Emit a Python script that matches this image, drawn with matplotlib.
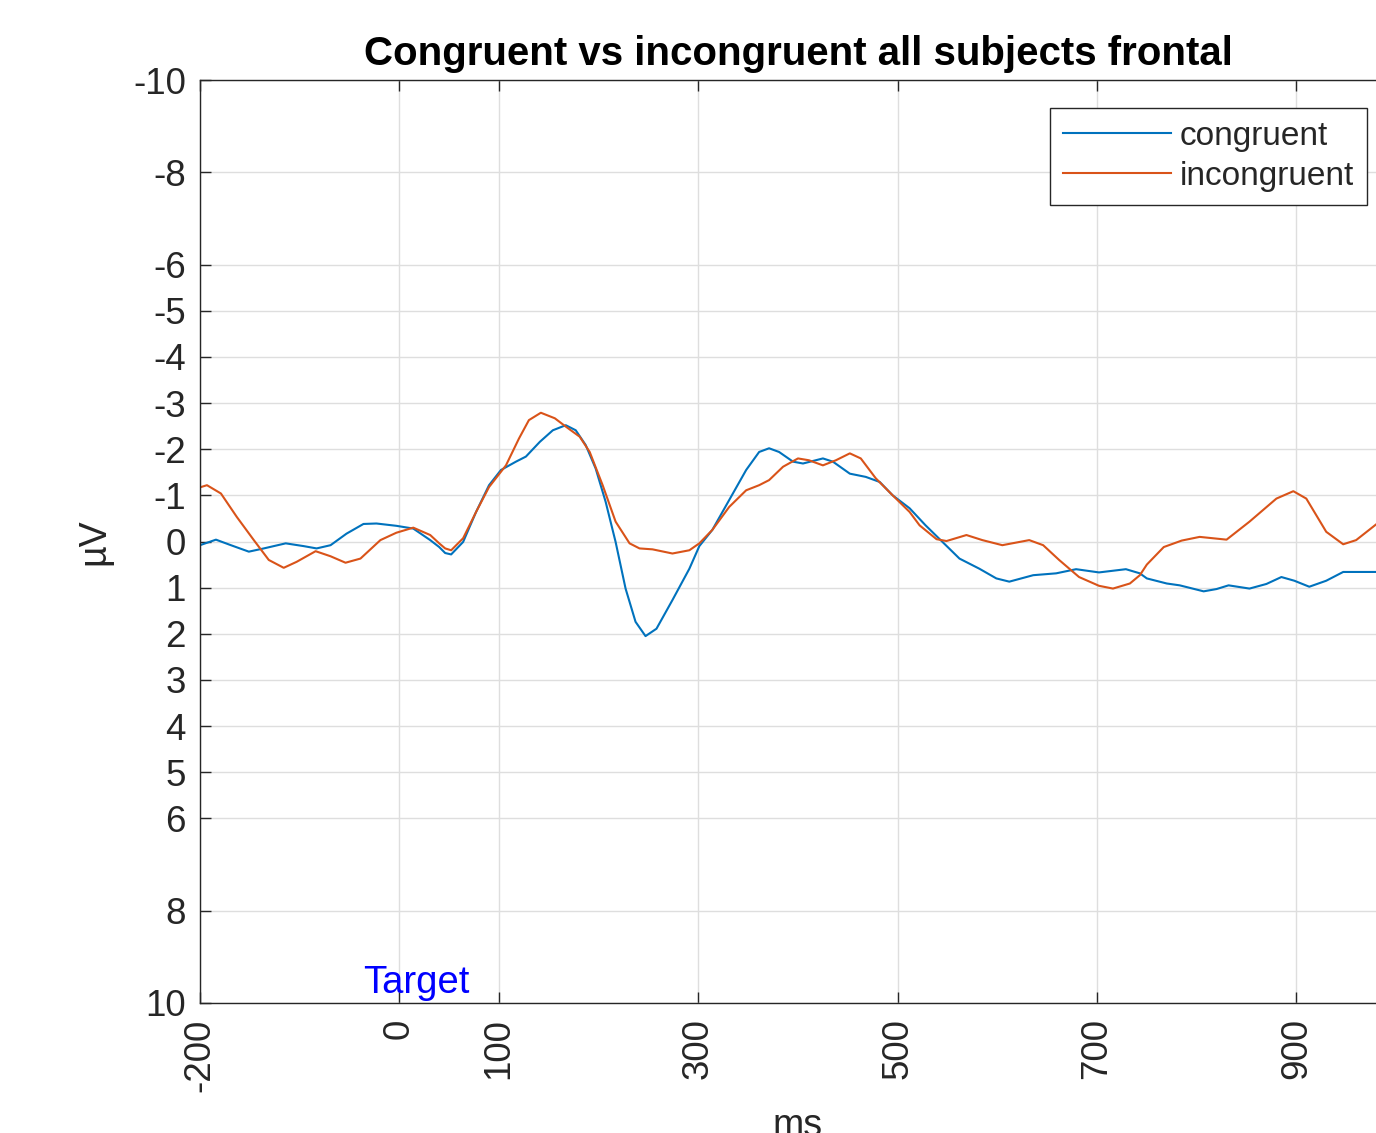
import matplotlib
matplotlib.use('Agg')
import matplotlib.pyplot as plt

# time axis in ms, amplitude in microvolts
t_congr = [-200, -184, -169, -151, -136, -114, -96, -83, -69, -53, -36, -23, -3, 14, 31, 40, 46, 52,
           64, 77, 90, 102, 117, 127, 141, 154, 167, 177, 187, 197, 207, 217, 227, 237, 247, 258, 274,
           291, 301, 314, 331, 348, 361, 371, 381, 395, 405, 425, 435, 452, 468, 482, 495, 512, 528,
           545, 562, 582, 599, 612, 636, 659, 679, 702, 729, 743, 750, 770, 783, 807, 820, 832, 853,
           870, 885, 898, 913, 930, 947, 980]
congruent = [0.08, -0.04, 0.08, 0.22, 0.15, 0.04, 0.1, 0.15, 0.08, -0.17, -0.38, -0.39, -0.34, -0.28,
             -0.03, 0.12, 0.25, 0.28, 0.01, -0.64, -1.22, -1.55, -1.73, -1.84, -2.16, -2.41, -2.52,
             -2.41, -2.09, -1.58, -0.86, 0.01, 1.02, 1.74, 2.05, 1.89, 1.27, 0.59, 0.1, -0.25, -0.9,
             -1.55, -1.94, -2.02, -1.94, -1.73, -1.69, -1.8, -1.73, -1.47, -1.4, -1.29, -1.0, -0.72,
             -0.35, 0.01, 0.37, 0.59, 0.8, 0.87, 0.73, 0.69, 0.6, 0.67, 0.6, 0.69, 0.8, 0.91, 0.95,
             1.08, 1.03, 0.95, 1.02, 0.92, 0.77, 0.85, 0.98, 0.85, 0.66, 0.66]

t_incongr = [-199, -193, -179, -163, -146, -131, -116, -103, -84, -69, -54, -39, -19, -3, 14, 31, 40,
             46, 52, 64, 77, 90, 107, 120, 130, 142, 156, 167, 181, 191, 204, 217, 231, 241, 254, 274,
             291, 301, 314, 331, 348, 361, 371, 385, 400, 411, 425, 438, 452, 463, 478, 495, 512, 522,
             539, 549, 569, 585, 605, 632, 646, 662, 682, 702, 716, 733, 743, 750, 767, 785, 803, 830,
             853, 880, 897, 910, 930, 947, 960, 980]
incongruent = [-1.18, -1.22, -1.04, -0.53, -0.03, 0.4, 0.57, 0.44, 0.21, 0.32, 0.46, 0.37, -0.03,
               -0.19, -0.3, -0.14, 0.04, 0.15, 0.19, -0.07, -0.64, -1.18, -1.65, -2.23, -2.63, -2.79,
               -2.67, -2.49, -2.27, -1.94, -1.22, -0.43, 0.04, 0.15, 0.17, 0.26, 0.19, 0.04, -0.25,
               -0.75, -1.11, -1.22, -1.33, -1.62, -1.8, -1.76, -1.65, -1.76, -1.91, -1.8, -1.37, -1.0,
               -0.64, -0.35, -0.05, -0.01, -0.14, -0.03, 0.08, -0.03, 0.08, 0.4, 0.77, 0.96, 1.02,
               0.91, 0.73, 0.5, 0.12, -0.02, -0.1, -0.04, -0.43, -0.93, -1.09, -0.93, -0.21, 0.06,
               -0.03, -0.37]

xticks = [-200, 0, 100, 300, 500, 700, 900]
yticks = [-10, -8, -6, -5, -4, -3, -2, -1, 0, 1, 2, 3, 4, 5, 6, 8, 10]

plt.rcParams['font.family'] = 'Liberation Sans'
plt.rcParams['axes.unicode_minus'] = False

W, H = 1376, 1133
fig = plt.figure(figsize=(W / 100, H / 100), dpi=100)
ax = fig.add_axes([200 / W, 1 - 1003 / H, 1196 / W, 923 / H])

dark = '#262626'
ax.plot(t_congr, congruent, color='#0072BD', lw=1.5, label='congruent', solid_joinstyle='round')
ax.plot(t_incongr, incongruent, color='#D95319', lw=1.5, label='incongruent', solid_joinstyle='round')

ax.set_xlim(-200, 1000)
ax.set_ylim(10, -10)
ax.set_xticks(xticks)
ax.set_xticklabels([str(v) for v in xticks], rotation=90)
ax.set_yticks(yticks)
ax.set_yticklabels([str(v) for v in yticks])
ax.grid(True, color='#dedede', lw=1.0)
ax.set_axisbelow(True)
ax.tick_params(direction='in', length=8, width=1.0, colors=dark, labelsize=26.5,
               top=True, right=True)
ax.tick_params(axis='y', pad=10)
ax.tick_params(axis='x', pad=11)
for s in ax.spines.values():
    s.set_color(dark)
    s.set_linewidth(1.0)

ax.set_title('Congruent vs incongruent all subjects frontal', fontsize=29,
             fontweight='bold', pad=11)
ax.set_xlabel('ms', fontsize=27, color=dark, labelpad=12)
ax.set_ylabel('µV', fontsize=27, color=dark, labelpad=15)

ax.text(-36, 9.79, 'Target', color='#0000FF', fontsize=27.5, ha='left', va='baseline')

leg = ax.legend(loc='upper right', bbox_to_anchor=(1367 / W, 1 - 108 / H),
                bbox_transform=fig.transFigure, borderaxespad=0, fontsize=24,
                handlelength=3.25, handletextpad=0.25, borderpad=0.39,
                labelspacing=0.27, fancybox=False, framealpha=1, edgecolor=dark)
leg.get_frame().set_linewidth(1.0)
for txt in leg.get_texts():
    txt.set_color(dark)

fig.savefig('out.png', dpi=100)
